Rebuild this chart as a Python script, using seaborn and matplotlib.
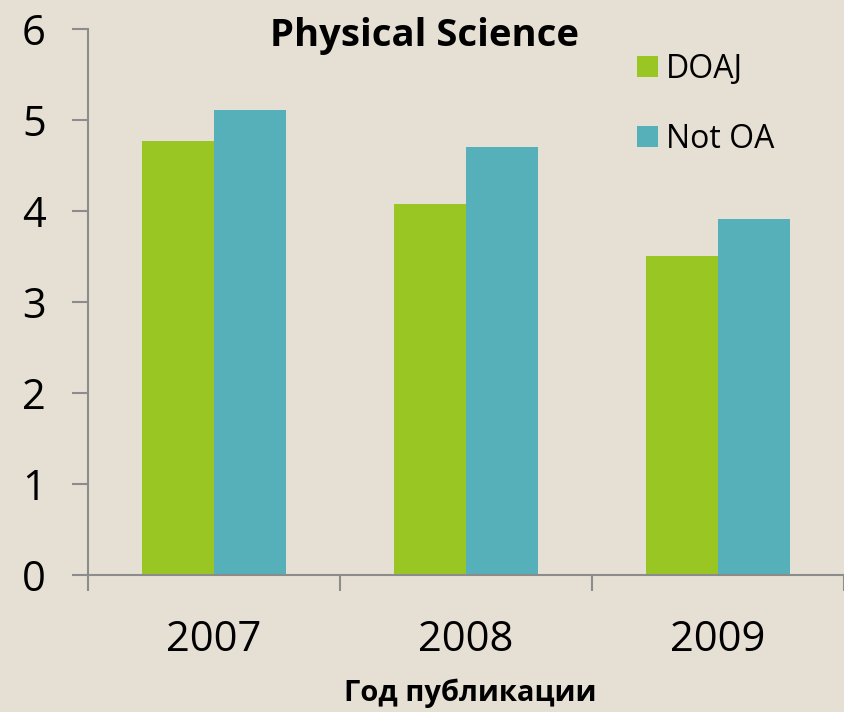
import matplotlib
matplotlib.use("Agg")
import matplotlib.pyplot as plt
import seaborn as sns
import pandas as pd
from matplotlib.patches import Patch

years = ["2007", "2008", "2009"]
doaj = [4.77, 4.08, 3.51]
not_oa = [5.11, 4.70, 3.91]
series_names = ["DOAJ", "Not OA"]
yticks = [0, 1, 2, 3, 4, 5, 6]

df = pd.DataFrame({
    "year": years * 2,
    "value": doaj + not_oa,
    "series": [series_names[0]] * 3 + [series_names[1]] * 3,
})

sns.set_style("white")
plt.rcParams['font.family'] = ['Open Sans', 'DejaVu Sans']
plt.rcParams['text.color'] = 'black'
plt.rcParams['xtick.color'] = 'black'
plt.rcParams['ytick.color'] = 'black'

bg = "#E6DFD3"
colors = ["#9AC623", "#56B0BA"]
W, H = 844, 712
fig = plt.figure(figsize=(W / 100, H / 100), dpi=100, facecolor=bg)
ax = fig.add_axes([88 / W, 1 - 575 / H, (W - 88) / W, (575 - 29) / H])
ax.set_facecolor(bg)

sns.barplot(data=df, x="year", y="value", hue="series", palette=colors,
            width=0.575, gap=0, saturation=1, ax=ax, legend=False,
            edgecolor='none', linewidth=0)

ax.set_ylim(0, 6)
ax.set_xlim(-0.5, -0.5 + (W - 88) / 254)
ax.set_yticks(yticks)
ax.set_yticklabels([str(t) for t in yticks], fontsize=30)
ax.tick_params(axis='y', left=True, length=11.5, width=1.5, color="#8C8C8C",
               labelcolor='black', pad=19, direction='out')

ax.set_xticks([-0.5, 0.5, 1.5, 2.5])
ax.set_xticklabels([])
ax.set_xticks([0, 1, 2], minor=True)
ax.set_xticklabels(years, minor=True, fontsize=30)
ax.tick_params(axis='x', which='major', bottom=True, length=11.5, width=1.5,
               color="#8C8C8C", direction='out')
ax.tick_params(axis='x', which='minor', bottom=True, length=0, pad=32, labelcolor='black')

for s in ['top', 'right']:
    ax.spines[s].set_visible(False)
for s in ['left', 'bottom']:
    ax.spines[s].set_color("#8C8C8C")
    ax.spines[s].set_linewidth(1.5)

ax.set_xlabel("")
ax.set_ylabel("")

fig.text(425 / W, 1 - 36 / H, "Physical Science", ha='center', va='center',
         fontsize=27.5, fontweight='bold', color='black')
fig.text(470 / W, 1 - 693 / H, "Год публикации", ha='center', va='center',
         fontsize=21, fontweight='bold', color='black')

handles = [Patch(facecolor=c, edgecolor='none') for c in colors]
leg = ax.legend(handles, series_names, loc='upper left',
                bbox_to_anchor=(624 / W, 1 - 40 / H), bbox_transform=fig.transFigure,
                frameon=False, fontsize=23, handlelength=0.65, handleheight=0.65,
                handletextpad=0.25, labelspacing=1.15, borderaxespad=0)
for t in leg.get_texts():
    t.set_color('black')

fig.savefig("out.png", dpi=100, facecolor=bg)
